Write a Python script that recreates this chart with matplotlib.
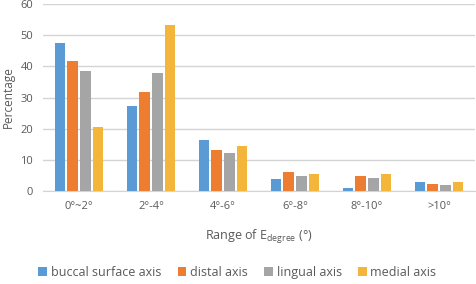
import matplotlib
matplotlib.use('Agg')
import matplotlib.pyplot as plt
import numpy as np

categories = ['0°~2°', '2°-4°', '4°-6°', '6°-8°', '8°-10°', '>10°']
buccal = [47.6, 27.3, 16.4, 3.9, 1.1, 3.0]
distal = [41.8, 31.9, 13.2, 6.2, 4.9, 2.3]
lingual = [38.6, 37.9, 12.3, 4.9, 4.3, 2.0]
medial = [20.6, 53.2, 14.5, 5.3, 5.6, 3.0]

series = [
    ('buccal surface axis', buccal, '#5B9BD5'),
    ('distal axis', distal, '#ED7D31'),
    ('lingual axis', lingual, '#A5A5A5'),
    ('medial axis', medial, '#F4B63A'),
]

plt.rcParams['font.family'] = ['Open Sans', 'DejaVu Sans']
text_col = '#595959'

fig = plt.figure(figsize=(4.76, 2.84), dpi=100)
ax = fig.add_axes([43 / 476, 1 - 191 / 284, 432 / 476, 187 / 284])

x = np.arange(len(categories))
step = 0.176
width = 0.148
for i, (name, vals, col) in enumerate(series):
    ax.bar(x + (i - 1.5) * step, vals, width, color=col, label=name, zorder=3)

ax.set_xlim(-0.5, len(categories) - 0.5)
ax.set_ylim(0, 60)
ax.set_yticks(range(0, 61, 10))
ax.yaxis.grid(True, color='#D4D4D4', linewidth=1, zorder=0)
for s in ['top', 'right', 'left']:
    ax.spines[s].set_visible(False)
ax.spines['bottom'].set_color('#D4D4D4')
ax.tick_params(axis='both', length=0, labelsize=8, colors=text_col, pad=7)
ax.set_xticks(x)
ax.set_xticklabels(categories)
ax.set_ylabel('Percentage', fontsize=8.5, color=text_col, labelpad=4)
ax.set_xlabel('Range of E$_{\\mathregular{degree}}$ (°)', fontsize=9, color=text_col, labelpad=12)

ax.legend(loc='upper center', bbox_to_anchor=(0.45, -0.34), ncol=4, frameon=False,
          fontsize=9, labelcolor=text_col, handlelength=0.7, handleheight=0.7,
          handletextpad=0.3, columnspacing=1.3)

fig.savefig('out.png', dpi=100)
